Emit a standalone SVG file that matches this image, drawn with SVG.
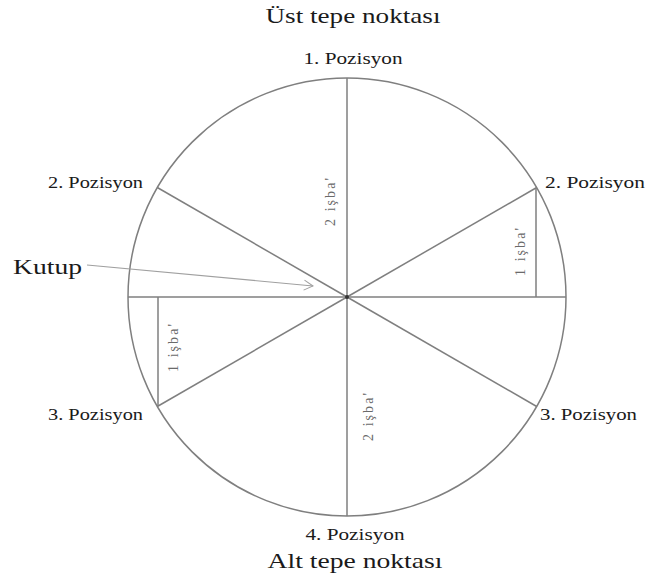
<svg xmlns="http://www.w3.org/2000/svg" width="654" height="582" viewBox="0 0 654 582">
<defs>
<style>
.t{font-family:"Liberation Serif","Times New Roman",serif;fill:#1a1a1a}
.big{font-size:22px}
.pos{font-size:17px}
.isb{font-family:"Liberation Serif","Times New Roman",serif;font-size:14px;fill:#6a6a6a}
.ln{stroke:#7f7f7f;stroke-width:1.5;fill:none}
</style>
<marker id="ah" markerWidth="12" markerHeight="12" refX="10" refY="6" orient="auto" markerUnits="userSpaceOnUse">
<path d="M1,1 L10,6 L1,11" fill="none" stroke="#a0a0a0" stroke-width="1"/>
</marker>
</defs>
<rect width="654" height="582" fill="#fff"/>
<g id="circle">
<circle cx="347" cy="297" r="219" class="ln"/>
</g>
<g id="connectors">
<line x1="347" y1="78" x2="347" y2="516" class="ln"/>
<line x1="128" y1="297" x2="566" y2="297" class="ln"/>
<line x1="347" y1="297" x2="157.3" y2="187.5" class="ln"/>
<line x1="347" y1="297" x2="536.7" y2="187.5" class="ln"/>
<line x1="347" y1="297" x2="157.3" y2="406.5" class="ln"/>
<line x1="347" y1="297" x2="536.7" y2="406.5" class="ln"/>
<line x1="536" y1="188" x2="536" y2="297" class="ln"/>
<line x1="158" y1="297" x2="158" y2="406" class="ln"/>
<line id="kutup-arrow" x1="87" y1="265" x2="313" y2="286" stroke="#a0a0a0" stroke-width="1.2" marker-end="url(#ah)"/>
<circle cx="347" cy="297" r="2" fill="#333"/>
</g>
<g id="labels">
<text class="t big" x="353" y="23" text-anchor="middle" textLength="175" lengthAdjust="spacingAndGlyphs">Üst tepe noktası</text>
<text class="t pos" x="353" y="64" text-anchor="middle" textLength="99" lengthAdjust="spacingAndGlyphs">1. Pozisyon</text>
<text class="t pos" x="48" y="188" textLength="95" lengthAdjust="spacingAndGlyphs">2. Pozisyon</text>
<text class="t pos" x="545" y="188" textLength="100" lengthAdjust="spacingAndGlyphs">2. Pozisyon</text>
<text class="t pos" x="48" y="420" textLength="95" lengthAdjust="spacingAndGlyphs">3. Pozisyon</text>
<text class="t pos" x="540" y="420" textLength="97" lengthAdjust="spacingAndGlyphs">3. Pozisyon</text>
<text class="t pos" x="355" y="540" text-anchor="middle" textLength="99" lengthAdjust="spacingAndGlyphs">4. Pozisyon</text>
<text class="t big" x="355" y="568" text-anchor="middle" textLength="175" lengthAdjust="spacingAndGlyphs">Alt tepe noktası</text>
<text class="t big" x="13" y="274" textLength="69" lengthAdjust="spacingAndGlyphs">Kutup</text>
</g>
<g id="measures">
<text class="isb" transform="translate(335,202) rotate(-90)" text-anchor="middle" textLength="48" lengthAdjust="spacing">2 işba'</text>
<text class="isb" transform="translate(373,417) rotate(-90)" text-anchor="middle" textLength="48" lengthAdjust="spacing">2 işba'</text>
<text class="isb" transform="translate(525,252) rotate(-90)" text-anchor="middle" textLength="48" lengthAdjust="spacing">1 işba'</text>
<text class="isb" transform="translate(178,348) rotate(-90)" text-anchor="middle" textLength="48" lengthAdjust="spacing">1 işba'</text>
</g>
</svg>
